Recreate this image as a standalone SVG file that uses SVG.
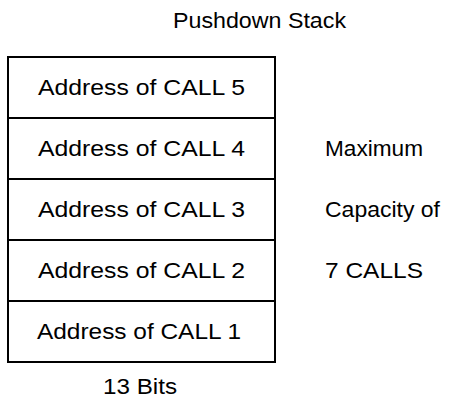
<svg xmlns="http://www.w3.org/2000/svg" width="450" height="414" viewBox="0 0 450 414">
<style>
  text { font-family: "Liberation Sans", Arial, sans-serif; font-size: 21.5px; fill: #000; }
  .cell { fill: #fff; stroke: #000; stroke-width: 2; }
</style>
<rect width="450" height="414" fill="#fff"/>
<g id="title"><text x="173" y="28" textLength="173" lengthAdjust="spacingAndGlyphs">Pushdown Stack</text></g>
<g id="stack">
  <g id="call5"><rect class="cell" x="8" y="57" width="267" height="61"/><text x="38" y="95" textLength="207" lengthAdjust="spacingAndGlyphs">Address of CALL 5</text></g>
  <g id="call4"><rect class="cell" x="8" y="118" width="267" height="61"/><text x="38" y="156" textLength="207" lengthAdjust="spacingAndGlyphs">Address of CALL 4</text></g>
  <g id="call3"><rect class="cell" x="8" y="179" width="267" height="61"/><text x="38" y="217" textLength="207" lengthAdjust="spacingAndGlyphs">Address of CALL 3</text></g>
  <g id="call2"><rect class="cell" x="8" y="240" width="267" height="61"/><text x="38" y="278" textLength="207" lengthAdjust="spacingAndGlyphs">Address of CALL 2</text></g>
  <g id="call1"><rect class="cell" x="8" y="301" width="267" height="61"/><text x="37" y="339" textLength="204" lengthAdjust="spacingAndGlyphs">Address of CALL 1</text></g>
</g>
<g id="capacity">
  <text x="325" y="156" textLength="98" lengthAdjust="spacingAndGlyphs">Maximum</text>
  <text x="325" y="217" textLength="115" lengthAdjust="spacingAndGlyphs">Capacity of</text>
  <text x="325" y="278" textLength="98" lengthAdjust="spacingAndGlyphs">7 CALLS</text>
</g>
<g id="width-label"><text x="103" y="394" textLength="74" lengthAdjust="spacingAndGlyphs">13 Bits</text></g>
<g id="connectors"></g>
</svg>
